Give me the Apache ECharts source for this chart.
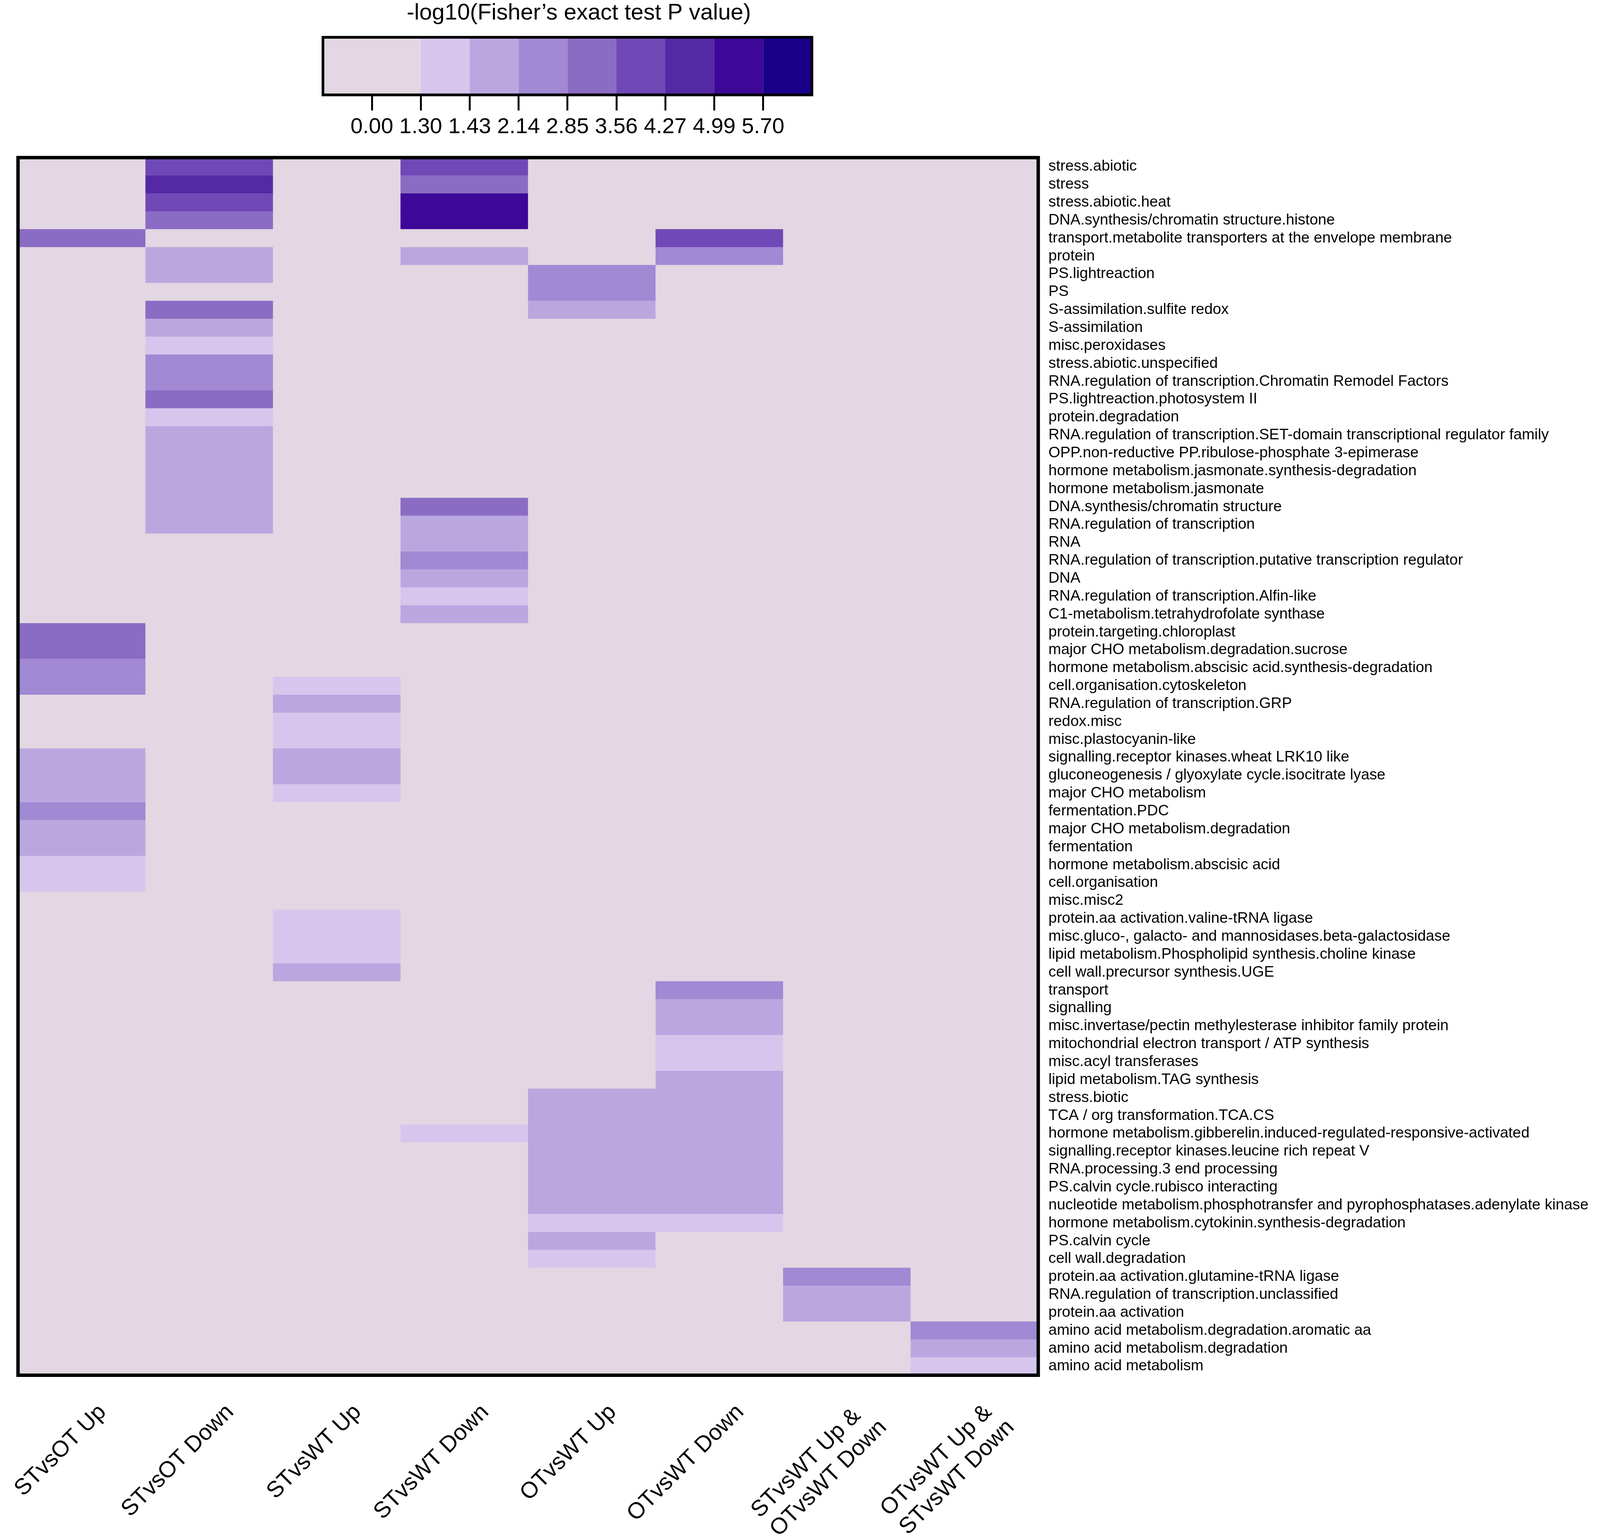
<!DOCTYPE html>
<html><head><meta charset="utf-8">
<script src="https://cdn.jsdelivr.net/npm/echarts@6/dist/echarts.min.js"></script>
<style>html,body{margin:0;padding:0;background:#fff;overflow:hidden;width:100%;height:100%}#c{width:100vw;height:100vh}</style>
</head><body><div id="c"></div>
<script>
const comparisons = ['STvsOT Up','STvsOT Down','STvsWT Up','STvsWT Down','OTvsWT Up','OTvsWT Down','STvsWT Up &\nOTvsWT Down','OTvsWT Up &\nSTvsWT Down'];
const categories = [
 'stress.abiotic','stress','stress.abiotic.heat','DNA.synthesis/chromatin structure.histone',
 'transport.metabolite transporters at the envelope membrane','protein','PS.lightreaction','PS',
 'S-assimilation.sulfite redox','S-assimilation','misc.peroxidases','stress.abiotic.unspecified',
 'RNA.regulation of transcription.Chromatin Remodel Factors','PS.lightreaction.photosystem II','protein.degradation',
 'RNA.regulation of transcription.SET-domain transcriptional regulator family','OPP.non-reductive PP.ribulose-phosphate 3-epimerase',
 'hormone metabolism.jasmonate.synthesis-degradation','hormone metabolism.jasmonate','DNA.synthesis/chromatin structure',
 'RNA.regulation of transcription','RNA','RNA.regulation of transcription.putative transcription regulator','DNA',
 'RNA.regulation of transcription.Alfin-like','C1-metabolism.tetrahydrofolate synthase','protein.targeting.chloroplast',
 'major CHO metabolism.degradation.sucrose','hormone metabolism.abscisic acid.synthesis-degradation','cell.organisation.cytoskeleton',
 'RNA.regulation of transcription.GRP','redox.misc','misc.plastocyanin-like','signalling.receptor kinases.wheat LRK10 like',
 'gluconeogenesis / glyoxylate cycle.isocitrate lyase','major CHO metabolism','fermentation.PDC','major CHO metabolism.degradation',
 'fermentation','hormone metabolism.abscisic acid','cell.organisation','misc.misc2','protein.aa activation.valine-tRNA ligase',
 'misc.gluco-, galacto- and mannosidases.beta-galactosidase','lipid metabolism.Phospholipid synthesis.choline kinase',
 'cell wall.precursor synthesis.UGE','transport','signalling','misc.invertase/pectin methylesterase inhibitor family protein',
 'mitochondrial electron transport / ATP synthesis','misc.acyl transferases','lipid metabolism.TAG synthesis','stress.biotic',
 'TCA / org transformation.TCA.CS','hormone metabolism.gibberelin.induced-regulated-responsive-activated',
 'signalling.receptor kinases.leucine rich repeat V','RNA.processing.3 end processing','PS.calvin cycle.rubisco interacting',
 'nucleotide metabolism.phosphotransfer and pyrophosphatases.adenylate kinase','hormone metabolism.cytokinin.synthesis-degradation',
 'PS.calvin cycle','cell wall.degradation','protein.aa activation.glutamine-tRNA ligase','RNA.regulation of transcription.unclassified',
 'protein.aa activation','amino acid metabolism.degradation.aromatic aa','amino acid metabolism.degradation','amino acid metabolism'
];
// -log10 P values per comparison (rows in category order)
const stvsotUp = [
 0,0,0,0,3.2,0,0,0,0,0,
 0,0,0,0,0,0,0,0,0,0,
 0,0,0,0,0,0,3.2,3.2,2.5,2.5,
 0,0,0,1.8,1.8,1.8,2.5,1.8,1.8,1.35,
 1.35,0,0,0,0,0,0,0,0,0,
 0,0,0,0,0,0,0,0,0,0,
 0,0,0,0,0,0,0,0];
const stvsotDown = [
 3.9,4.6,3.9,3.2,0,1.8,1.8,0,3.2,1.8,
 1.35,2.5,2.5,3.2,1.35,1.8,1.8,1.8,1.8,1.8,
 1.8,0,0,0,0,0,0,0,0,0,
 0,0,0,0,0,0,0,0,0,0,
 0,0,0,0,0,0,0,0,0,0,
 0,0,0,0,0,0,0,0,0,0,
 0,0,0,0,0,0,0,0];
const stvswtUp = [
 0,0,0,0,0,0,0,0,0,0,
 0,0,0,0,0,0,0,0,0,0,
 0,0,0,0,0,0,0,0,0,1.35,
 1.8,1.35,1.35,1.8,1.8,1.35,0,0,0,0,
 0,0,1.35,1.35,1.35,1.8,0,0,0,0,
 0,0,0,0,0,0,0,0,0,0,
 0,0,0,0,0,0,0,0];
const stvswtDown = [
 3.9,3.2,5.3,5.3,0,1.8,0,0,0,0,
 0,0,0,0,0,0,0,0,0,3.2,
 1.8,1.8,2.5,1.8,1.35,1.8,0,0,0,0,
 0,0,0,0,0,0,0,0,0,0,
 0,0,0,0,0,0,0,0,0,0,
 0,0,0,0,1.35,0,0,0,0,0,
 0,0,0,0,0,0,0,0];
const otvswtUp = [
 0,0,0,0,0,0,2.5,2.5,1.8,0,
 0,0,0,0,0,0,0,0,0,0,
 0,0,0,0,0,0,0,0,0,0,
 0,0,0,0,0,0,0,0,0,0,
 0,0,0,0,0,0,0,0,0,0,
 0,0,1.8,1.8,1.8,1.8,1.8,1.8,1.8,1.35,
 1.8,1.35,0,0,0,0,0,0];
const otvswtDown = [
 0,0,0,0,3.9,2.5,0,0,0,0,
 0,0,0,0,0,0,0,0,0,0,
 0,0,0,0,0,0,0,0,0,0,
 0,0,0,0,0,0,0,0,0,0,
 0,0,0,0,0,0,2.5,1.8,1.8,1.35,
 1.35,1.8,1.8,1.8,1.8,1.8,1.8,1.8,1.8,1.35,
 0,0,0,0,0,0,0,0];
const stUpOtDown = [
 0,0,0,0,0,0,0,0,0,0,
 0,0,0,0,0,0,0,0,0,0,
 0,0,0,0,0,0,0,0,0,0,
 0,0,0,0,0,0,0,0,0,0,
 0,0,0,0,0,0,0,0,0,0,
 0,0,0,0,0,0,0,0,0,0,
 0,0,2.5,1.8,1.8,0,0,0];
const otUpStDown = [
 0,0,0,0,0,0,0,0,0,0,
 0,0,0,0,0,0,0,0,0,0,
 0,0,0,0,0,0,0,0,0,0,
 0,0,0,0,0,0,0,0,0,0,
 0,0,0,0,0,0,0,0,0,0,
 0,0,0,0,0,0,0,0,0,0,
 0,0,0,0,0,2.5,1.8,1.35];
const legendTickLabels = ['0.00','1.30','1.43','2.14','2.85','3.56','4.27','4.99','5.70'];
const levelColors = ['#E2D7E2','#D6C6EE','#BBA7DF','#A189D4','#8B6CC4','#7049B6','#5529A5','#3D0898','#1A0089'];

const columns = [stvsotUp, stvsotDown, stvswtUp, stvswtDown, otvswtUp, otvswtDown, stUpOtDown, otUpStDown];
const heatData = [];
columns.forEach((col, xi) => col.forEach((v, yi) => heatData.push([xi, yi, v])));

const breaks = legendTickLabels.slice(1).map(Number);
const pieces = [{lt: breaks[0], color: levelColors[0]}];
for (let i = 0; i < breaks.length; i++) {
  const p = {gte: breaks[i], color: levelColors[i + 1]};
  if (i + 1 < breaks.length) p.lt = breaks[i + 1];
  pieces.push(p);
}
// legend slots: first two slots use the background colour
const legendData = [];
for (let s = 0; s < 10; s++) legendData.push([s, 0, Math.max(0, s - 1)]);

const FONT = '"Liberation Sans", Arial, sans-serif';
const chart = echarts.init(document.getElementById('c'));
// layout designed for a 4221 x 3941 page, scaled to the actual viewport
const W = chart.getWidth(), H = chart.getHeight();
const sx = W / 4221, sy = H / 3941, s = Math.min(sx, sy);
const XFS = 60 * s;
const measureCtx = document.createElement('canvas').getContext('2d');
measureCtx.font = XFS + 'px ' + FONT;
function lineGap(label) {
  const parts = label.split('\n');
  if (parts.length < 2) return 0;
  return Math.round(Math.max(0, measureCtx.measureText(parts[1]).width - measureCtx.measureText(parts[0]).width));
}
const xRich = {pad: {fontSize: 1, lineHeight: 44 * s}};
comparisons.forEach(c => { const g = lineGap(c); if (g > 0) xRich['sp' + g] = {width: g, fontSize: XFS, lineHeight: 70 * s}; });

const plotRect = {left: 47.5 * sx, top: 403.7 * sy, width: 2691.5 * sx, height: 3118 * sy};

chart.setOption({
  animation: false,
  backgroundColor: '#ffffff',
  graphic: [{
    type: 'text', x: 1527 * sx, y: 34 * sy,
    style: {text: '-log10(Fisher\u2019s exact test P value)', fontSize: 60 * s, fontFamily: FONT, fill: '#000',
            align: 'center', verticalAlign: 'middle', textAlign: 'center', textVerticalAlign: 'middle'}
  }],
  grid: [
    Object.assign({show: true, borderWidth: 0, backgroundColor: levelColors[0], z: 0, outerBoundsMode: 'none', containLabel: false}, plotRect),
    {left: 852 * sx, top: 95.5 * sy, width: 1290 * sx, height: 147.5 * sy, show: true, borderColor: '#000', borderWidth: 7 * s,
     backgroundColor: 'transparent', z: 10, outerBoundsMode: 'none', containLabel: false},
    Object.assign({show: true, borderColor: '#000', borderWidth: 9 * s, backgroundColor: 'transparent', z: 10,
                   outerBoundsMode: 'none', containLabel: false}, plotRect)
  ],
  xAxis: [
    {type: 'category', gridIndex: 0, data: comparisons, position: 'bottom',
     axisLine: {show: false}, axisTick: {show: false}, splitLine: {show: false},
     axisLabel: {interval: 0, rotate: 45, fontSize: XFS, fontFamily: FONT, color: '#000', margin: 33 * s, lineHeight: 70 * s,
                 align: 'right', verticalAlign: 'middle', padding: [156 * s, 0, 0, 0],
                 formatter: function (v) {
                   const parts = String(v).split('\n');
                   if (parts.length < 2) return v;
                   const g = lineGap(String(v));
                   return '{pad| }\n' + parts[0] + (g > 0 ? '{sp' + g + '| }' : '') + '\n' + parts[1];
                 },
                 rich: xRich}},
    {type: 'value', gridIndex: 1, min: 0, max: 10, interval: 1,
     axisLine: {show: false}, splitLine: {show: false},
     axisTick: {show: true, customValues: [1,2,3,4,5,6,7,8,9], length: 40 * sy, lineStyle: {color: '#000', width: 5 * s}},
     axisLabel: {customValues: [1,2,3,4,5,6,7,8,9], formatter: v => legendTickLabels[v - 1] || '',
                 fontSize: 58 * s, fontFamily: FONT, color: '#000', margin: 54 * sy}},
    {type: 'category', gridIndex: 2, data: comparisons, show: false}
  ],
  yAxis: [
    {type: 'category', gridIndex: 0, data: categories, inverse: true, position: 'right',
     axisLine: {show: false}, axisTick: {show: false}, splitLine: {show: false},
     axisLabel: {interval: 0, fontSize: 40 * s, fontFamily: FONT, color: '#000', margin: 27 * sx, align: 'left'}},
    {type: 'value', gridIndex: 1, min: 0, max: 1, show: false},
    {type: 'category', gridIndex: 2, data: categories, inverse: true, show: false}
  ],
  visualMap: {type: 'piecewise', show: false, seriesIndex: 0, dimension: 2, pieces: pieces},
  series: [
    {type: 'heatmap', xAxisIndex: 0, yAxisIndex: 0, data: heatData, itemStyle: {borderWidth: 0}, emphasis: {disabled: true}},
    {type: 'custom', xAxisIndex: 1, yAxisIndex: 1, data: legendData, encode: {x: 0, y: 1},
     renderItem: function (params, api) {
       const i = api.value(0);
       const p0 = api.coord([i, 1]);
       const p1 = api.coord([i + 1, 0]);
       return {type: 'rect', shape: {x: p0[0], y: p0[1], width: p1[0] - p0[0], height: p1[1] - p0[1]},
               style: {fill: levelColors[api.value(2)]}};
     }}
  ]
});
</script></body></html>
